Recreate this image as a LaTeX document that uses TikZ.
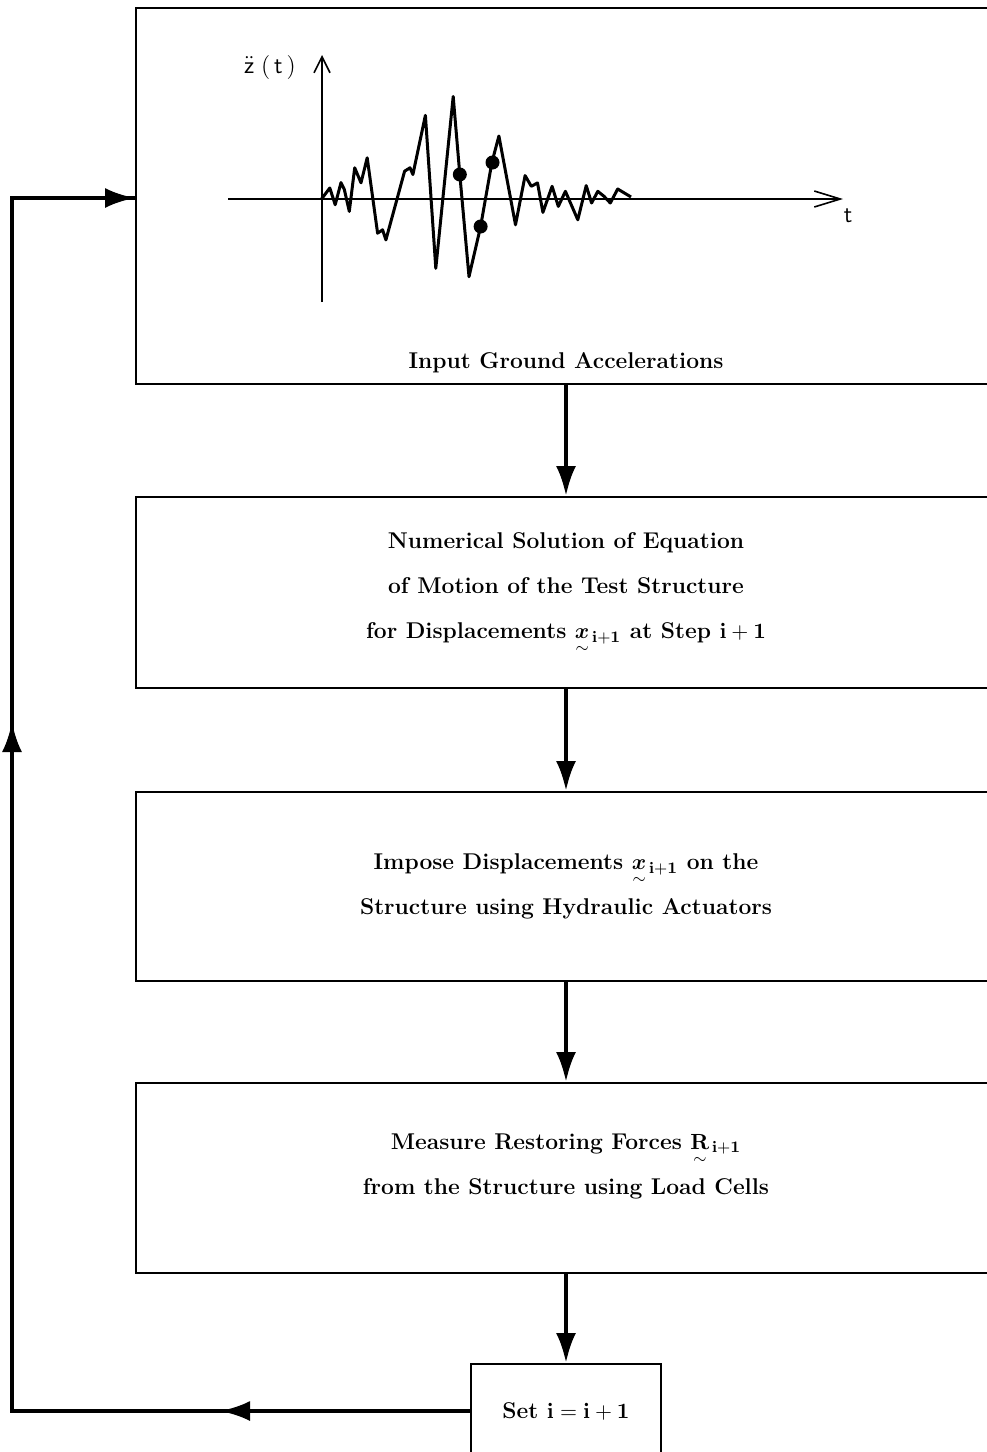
\documentclass[tikz,border=0pt]{standalone}
\usetikzlibrary{arrows.meta,positioning}
\usepackage{amsmath,amssymb}

\newcommand{\tildevec}[1]{\mathord{\smash[b]{\underset{\sim}{#1}}}\mkern2mu}

\tikzset{
  stagebox/.style={draw=black, line width=1pt, minimum width=430pt, inner sep=0pt,
    align=center, font=\fontsize{11.4}{22.5}\selectfont\bfseries},
  flow/.style={line width=2pt, -{Latex[length=15pt,width=10pt]}},
  railline/.style={line width=2pt},
  axis/.style={line width=0.8pt},
  trace/.style={line width=1.5pt, line join=round},
  peakdot/.style={circle, fill=black, inner sep=0pt, minimum size=7pt},
  axislabel/.style={font=\fontsize{13}{15}\selectfont, inner sep=0pt}
}

\begin{document}
\begin{tikzpicture}[x=0.5pt, y=-0.5pt]
        \useasboundingbox (0,0) rectangle (986,1452);

        % boxes
        \node[stagebox, minimum height=188pt] (input) at (566,196) {};
        \node (inputlabel) at ([yshift=11pt]input.south) {\fontsize{11.4}{14}\selectfont\bfseries Input Ground Accelerations};
        \node[stagebox, minimum height=95.5pt, below=55.5pt of input] (solve)
            {Numerical Solution of Equation\\ of Motion of the Test Structure\\
             for Displacements $\tildevec{\boldsymbol{x}}_{\mathbf{i+1}}$ at Step $\mathbf{i}+\mathbf{1}$\rule[-7pt]{0pt}{7pt}};
        \node[stagebox, minimum height=94.5pt, below=51pt of solve] (impose)
            {Impose Displacements $\tildevec{\boldsymbol{x}}_{\mathbf{i+1}}$ on the\\
             Structure using Hydraulic Actuators};
        \node[stagebox, minimum height=95pt, below=50pt of impose] (measure)
            {Measure Restoring Forces $\tildevec{\mathbf{R}}_{\mathbf{i+1}}$\\
             from the Structure using Load Cells\rule[-14pt]{0pt}{14pt}};
        \node[stagebox, minimum width=95pt, minimum height=47pt, below=44.5pt of measure] (update)
            {Set $\mathbf{i}=\mathbf{i}+\mathbf{1}$};

        % forward arrows
        \draw[flow] (input) -- (solve);
        \draw[flow] (solve) -- (impose);
        \draw[flow] (impose) -- (measure);
        \draw[flow] (measure) -- (update);

        % feedback loop
        \coordinate (railtop) at (12,198);
        \coordinate (railbot) at (railtop |- update.west);
        \coordinate (backtip) at ([xshift=104pt]railbot);
        \coordinate (uptip) at (12,722);
        \draw[railline] (update.west) -- (railbot) -- (railtop) -- (railtop -| input.west);
        \draw[flow] (update.west) -- (backtip);
        \draw[flow] (railbot) -- (uptip);
        \draw[flow] (railtop) -- (railtop -| input.west);

        % ground acceleration record
        \draw[axis, -{Straight Barb[length=8pt,width=8pt]}] (322,302) -- (322,55);
        \draw[axis, -{Straight Barb[length=13pt,width=8pt]}] (228,199) -- (843,199);
        \node[axislabel] (zlabel) at (270,67) {$\ddot{\mathsf{z}}\;(\,\mathsf{t}\,)$};
        \node[axislabel] (tlabel) at (848,216) {$\mathsf{t}$};
        \draw[trace] (321.5,199) -- (329.8,188) -- (335.2,204.7) -- (341,182.6) -- (344.3,189.4)
            -- (349.3,211.4) -- (354.7,167.8) -- (361,182.8) -- (367.2,157.8) -- (377.6,233.2)
            -- (382.6,229.8) -- (385.9,239.9) -- (404.6,171.2) -- (410,167.8) -- (412.9,174.5)
            -- (425.4,115.3) -- (435.8,268.3) -- (453.2,96.5) -- (459.8,174.5) -- (469,276.7)
            -- (480.6,226.5) -- (491.8,162.8) -- (498.9,136) -- (515.5,224.8) -- (525.1,175.6)
            -- (531.3,186.3) -- (537.5,182.9) -- (542.9,212.4) -- (552.1,186.3) -- (558.3,206.4)
            -- (565.4,191.3) -- (577.8,219.8) -- (586.2,185.6) -- (591.6,203) -- (597.8,191.3)
            -- (604,196.3) -- (610.3,203) -- (617.7,189) -- (631,197);
        \node[peakdot] (p1) at (459.8,174.5) {};
        \node[peakdot] (p2) at (480.6,226.5) {};
        \node[peakdot] (p3) at (492.5,162.5) {};

\end{tikzpicture}
\end{document}
